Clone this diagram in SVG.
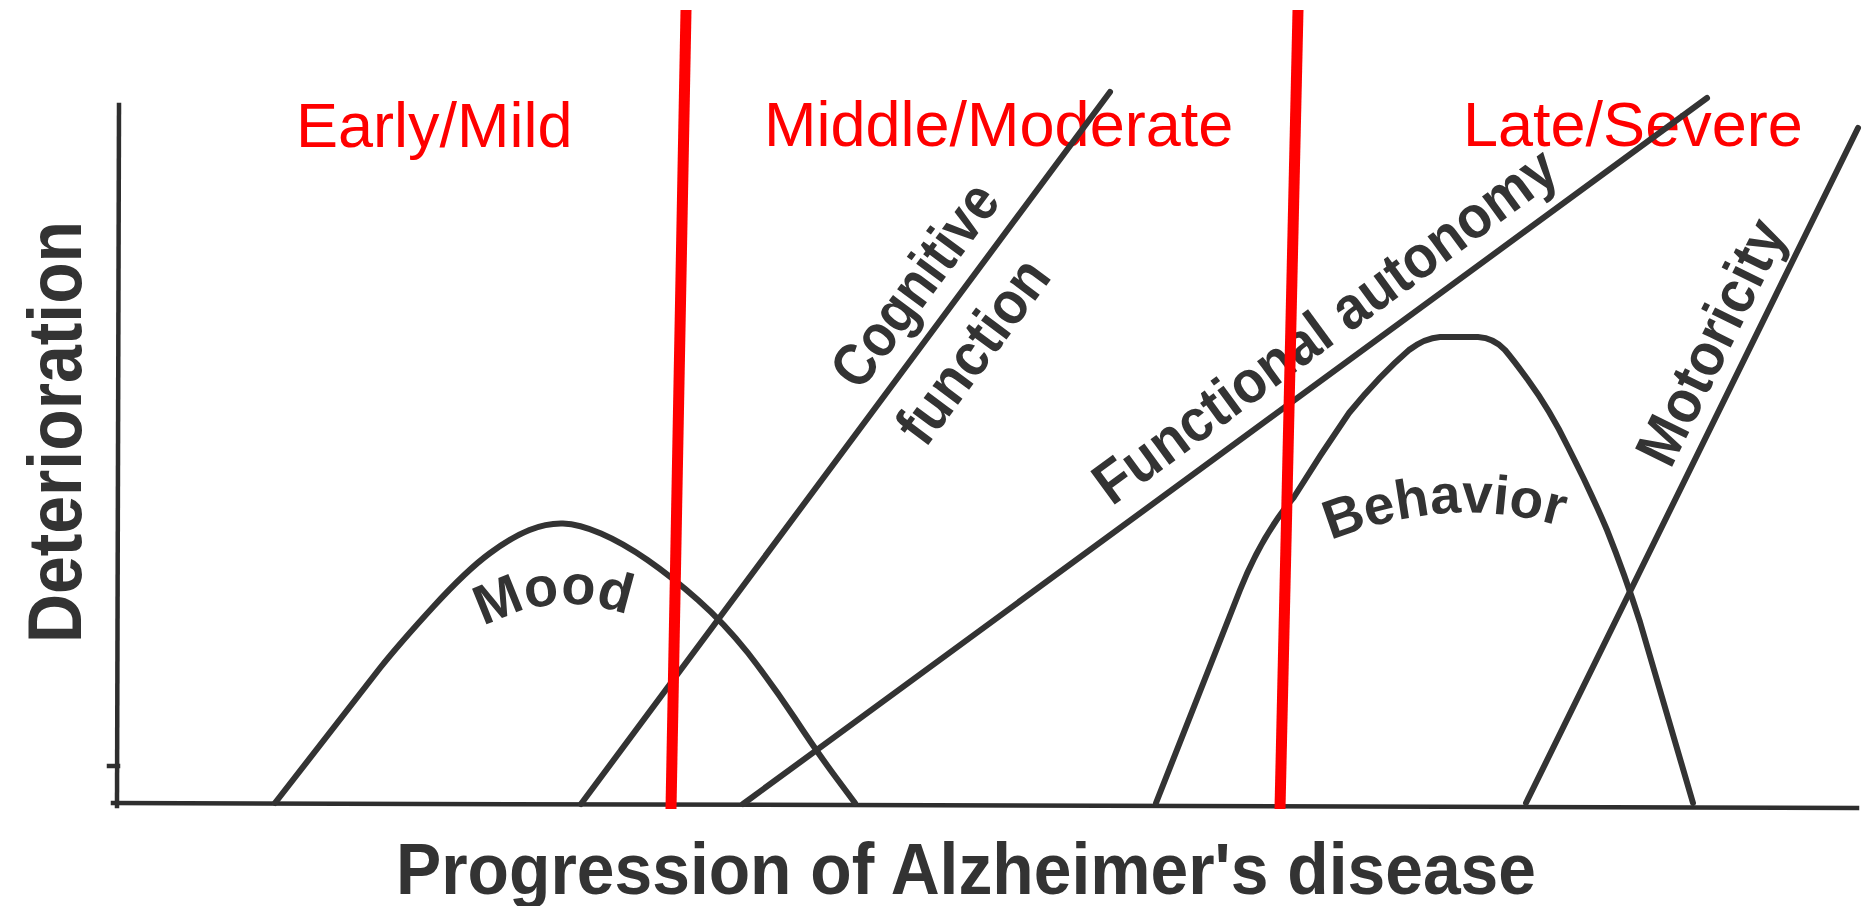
<svg xmlns="http://www.w3.org/2000/svg" width="1872" height="906" viewBox="0 0 1872 906">
  <style>
    .ink { fill: none; stroke: #333333; stroke-width: 6; stroke-linecap: round; stroke-linejoin: round; }
    .axis { fill: none; stroke: #2e2e2e; stroke-width: 4.5; stroke-linecap: square; }
    .lbl { font-family: "Liberation Sans", Arial, sans-serif; font-weight: bold; fill: #333333; }
    .stage { font-family: "Liberation Sans", Arial, sans-serif; font-size: 63px; fill: #ff0000; }
    .divider { stroke: #ff0000; stroke-width: 11; fill: none; }
  </style>
  <defs>
    <path id="moodArc" d="M468,636 Q556,580 644,622"/>
    <path id="behaviorArc" d="M1322,544 Q1450,490 1570,529"/>
  </defs>
  <rect x="0" y="0" width="1872" height="906" fill="#ffffff"/>

  <g id="stage-labels">
    <text class="stage" x="296" y="147">Early/Mild</text>
    <text class="stage" x="764" y="146">Middle/Moderate</text>
    <text class="stage" x="1463" y="146">Late/Severe</text>
  </g>

  <g id="axes">
    <path class="axis" d="M119,105 L117,806"/>
    <path class="axis" d="M113,803 L1857,808"/>
    <path class="axis" d="M109,766 L118,766"/>
    <text class="lbl" font-size="76" transform="translate(81,643) rotate(-90)" textLength="422" lengthAdjust="spacingAndGlyphs">Deterioration</text>
    <text class="lbl" font-size="72" x="396" y="894" textLength="1140" lengthAdjust="spacingAndGlyphs">Progression of Alzheimer's disease</text>
  </g>

  <g id="connectors">
    <path id="mood" class="ink" d="M275,803 L380,668 Q400,643 433.5,606.5 Q467,570 489.5,553.5 Q512,537 529.5,530 Q547,523 563,523.5 Q579,524 601,533.5 Q623,543 647.5,560 Q672,577 698,600 Q724,623 748,653 Q772,684 794,717 Q817,752 836,777.5 L855,803"/>
    <path id="cognitive" class="ink" d="M581,804 L1110,92"/>
    <path id="functional" class="ink" d="M743,804 L1707,98"/>
    <path id="behavior" class="ink" d="M1156,803 L1240,590 Q1262,535 1294,497 Q1320,455 1349,413 Q1380,375 1409,350 Q1425,338 1440,337 L1478,337 Q1494,338 1505,350 Q1515,362 1528,380 Q1550,410 1568,447 Q1590,490 1607,530 Q1625,575 1640,622 L1693,803"/>
    <path id="motoricity" class="ink" d="M1526,803 L1858,128"/>
  </g>

  <g id="curve-labels">
    <text class="lbl" font-size="60" text-anchor="middle" transform="translate(931,297) rotate(-53.4)" textLength="238" lengthAdjust="spacingAndGlyphs">Cognitive</text>
    <text class="lbl" font-size="60" text-anchor="middle" transform="translate(989,363) rotate(-53.4)" textLength="214" lengthAdjust="spacingAndGlyphs">function</text>
    <text class="lbl" font-size="60" text-anchor="middle" transform="translate(1337,342) rotate(-36.2)" textLength="558" lengthAdjust="spacingAndGlyphs">Functional autonomy</text>
    <text class="lbl" font-size="60" text-anchor="middle" transform="translate(1729,351) rotate(-63.8)" textLength="265" lengthAdjust="spacingAndGlyphs">Motoricity</text>
    <text class="lbl" font-size="56" text-anchor="middle"><textPath href="#moodArc" startOffset="50%">Mood</textPath></text>
    <text class="lbl" font-size="55" text-anchor="middle"><textPath href="#behaviorArc" startOffset="50%">Behavior</textPath></text>
  </g>

  <g id="stage-dividers">
    <line class="divider" x1="686" y1="10" x2="671" y2="809"/>
    <line class="divider" x1="1298" y1="10" x2="1280" y2="809"/>
  </g>
</svg>
